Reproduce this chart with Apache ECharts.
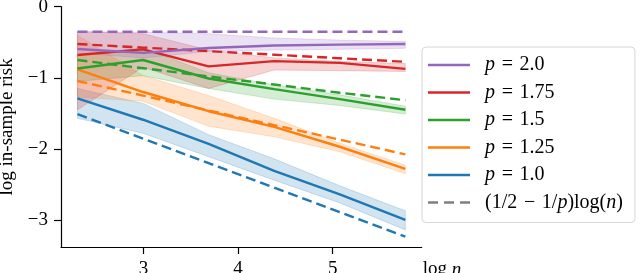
<!DOCTYPE html>
<html><head><meta charset="utf-8">
<script src="https://cdn.jsdelivr.net/npm/echarts@6/dist/echarts.min.js"></script>
<style>html,body{margin:0;padding:0;background:#fff}#c{width:640px;height:273px}</style>
</head><body><div id="c"></div>
<script>
// log n positions
var X = [2.303, 2.996, 3.689, 4.382, 5.075, 5.768];
var xTicks = [3, 4, 5];
var yTicks = [0, -1, -2, -3];
var yTickLabels = ['0', '\u22121', '\u22122', '\u22123'];

// solid lines (mean)
var p10 = [-1.29, -1.59, -1.93, -2.31, -2.64, -3.00];
var p125 = [-0.88, -1.20, -1.47, -1.69, -1.97, -2.28];
var p15 = [-0.87, -0.75, -1.01, -1.16, -1.30, -1.45];
var p175 = [-0.68, -0.60, -0.84, -0.765, -0.79, -0.875];
var p20 = [-0.595, -0.65, -0.58, -0.546, -0.534, -0.525];

// dashed reference lines
var d10 = [-1.51, -1.855, -2.20, -2.545, -2.89, -3.235];
var d125 = [-1.045, -1.25, -1.46, -1.665, -1.87, -2.077];
var d15 = [-0.75, -0.865, -0.98, -1.095, -1.21, -1.315];
var d175 = [-0.525, -0.575, -0.625, -0.675, -0.725, -0.775];
var d20 = [-0.352, -0.352, -0.352, -0.352, -0.352, -0.352];

// shaded bands (lower, upper)
var b10lo = [-1.57, -1.78, -2.11, -2.44, -2.76, -3.14];
var b10hi = [-1.15, -1.36, -1.80, -2.14, -2.52, -2.87];
var b125lo = [-1.27, -1.33, -1.68, -1.83, -2.04, -2.35];
var b125hi = [-0.40, -0.97, -1.25, -1.57, -1.92, -2.23];
var b15lo = [-1.05, -0.97, -1.15, -1.30, -1.39, -1.51];
var b15hi = [-0.68, -0.58, -0.93, -1.10, -1.24, -1.40];
var b175lo = [-1.45, -0.85, -1.15, -0.89, -0.90, -0.91];
var b175hi = [-0.35, -0.38, -0.61, -0.72, -0.77, -0.80];
var b20lo = [-0.65, -0.72, -0.63, -0.61, -0.60, -0.585];
var b20hi = [-0.35, -0.36, -0.38, -0.44, -0.47, -0.49];

var names = ['p = 1.0', 'p = 1.25', 'p = 1.5', 'p = 1.75', 'p = 2.0'];
var refName = '(1/2 \u2212 1/p)log(n)';
var colors = ['#1f77b4', '#ff7f0e', '#2ca02c', '#d62728', '#9467bd'];
var solids = [p10, p125, p15, p175, p20];
var dashes = [d10, d125, d15, d175, d20];
var bandsLo = [b10lo, b125lo, b15lo, b175lo, b20lo];
var bandsHi = [b10hi, b125hi, b15hi, b175hi, b20hi];

var FONT = 'Liberation Serif';

function pairs(v) { return X.map(function (x, i) { return [x, v[i]]; }); }

function band(k) {
  var lo = bandsLo[k], hi = bandsHi[k], col = colors[k];
  return {
    type: 'custom', name: 'band' + k, silent: true, z: 1,
    data: X.map(function (x, i) { return [x, lo[i], hi[i]]; }),
    encode: { x: 0, y: [1, 2] },
    renderItem: function (params, api) {
      if (params.dataIndex !== 0) return null;
      var pts = [];
      for (var i = 0; i < X.length; i++) pts.push(api.coord([X[i], hi[i]]));
      for (var j = X.length - 1; j >= 0; j--) pts.push(api.coord([X[j], lo[j]]));
      return { type: 'polygon', shape: { points: pts },
        style: { fill: col, stroke: col, lineWidth: 1, opacity: 0.2 } };
    }
  };
}

var series = [];
for (var k = 0; k < 5; k++) series.push(band(k));
for (var k2 = 0; k2 < 5; k2++) {
  series.push({ type: 'line', name: names[k2], data: pairs(solids[k2]), symbol: 'none', z: 3,
    lineStyle: { color: colors[k2], width: 2.4 }, itemStyle: { color: colors[k2] } });
  series.push({ type: 'line', name: 'ref' + k2, data: pairs(dashes[k2]), symbol: 'none', z: 3,
    lineStyle: { color: colors[k2], width: 2.4, type: [10, 5] }, itemStyle: { color: colors[k2] } });
}
series.push({ type: 'line', name: refName, data: [], symbol: 'none',
  lineStyle: { color: '#7f7f7f', width: 2.4, type: [10, 5] }, itemStyle: { color: '#7f7f7f' } });

var SP = '\u2004';
var legendText = {
  'p = 2.0': '{i|p}' + SP + '=' + SP + '2.0', 'p = 1.75': '{i|p}' + SP + '=' + SP + '1.75',
  'p = 1.5': '{i|p}' + SP + '=' + SP + '1.5', 'p = 1.25': '{i|p}' + SP + '=' + SP + '1.25',
  'p = 1.0': '{i|p}' + SP + '=' + SP + '1.0'
};
legendText[refName] = '(1/2' + SP + '\u2212' + SP + '1/{i|p})log({i|n})';

var solidIcon = 'path://M0,0h42v2.4h-42z';
var dashIcon = 'path://M0,0h10v2.4h-10z M16,0h10v2.4h-10z M32,0h10v2.4h-10z';
var legendData = ['p = 2.0', 'p = 1.75', 'p = 1.5', 'p = 1.25', 'p = 1.0'].map(function (n) {
  return { name: n, icon: solidIcon };
});
legendData.push({ name: refName, icon: dashIcon });

var chart = echarts.init(document.getElementById('c'), null, { renderer: 'canvas' });
chart.setOption({
  animation: false,
  backgroundColor: '#fff',
  grid: { left: 61, top: 6.7, right: 218.3, bottom: 26, containLabel: false, outerBoundsMode: 'none' },
  xAxis: {
    type: 'value', min: 2.129, max: 5.941,
    name: 'log {i|n}', nameLocation: 'end', nameGap: 1,
    nameTextStyle: { fontFamily: FONT, fontSize: 19, color: '#000', align: 'left', verticalAlign: 'top',
      padding: [13, 0, 0, 0], rich: { i: { fontFamily: FONT, fontSize: 19, fontStyle: 'italic', color: '#000' } } },
    axisLine: { show: true, onZero: false, lineStyle: { color: '#000', width: 1.2 } },
    axisTick: { show: true, length: 7, lineStyle: { color: '#000', width: 1.2 }, customValues: xTicks },
    axisLabel: { customValues: xTicks, margin: 13, fontFamily: FONT, fontSize: 19, color: '#000' },
    splitLine: { show: false }
  },
  yAxis: {
    type: 'value', min: -3.38, max: 0,
    name: 'log in-sample risk', nameLocation: 'middle', nameGap: 39,
    nameTextStyle: { fontFamily: FONT, fontSize: 19, color: '#000' },
    axisLine: { show: true, onZero: false, lineStyle: { color: '#000', width: 1.2 } },
    axisTick: { show: true, length: 7, lineStyle: { color: '#000', width: 1.2 }, customValues: yTicks },
    axisLabel: { customValues: yTicks, margin: 13, fontFamily: FONT, fontSize: 19, color: '#000',
      formatter: function (v) { var i = yTicks.indexOf(Math.round(v)); return i >= 0 ? yTickLabels[i] : ''; } },
    splitLine: { show: false }
  },
  legend: {
    orient: 'vertical', left: 422, top: 47,
    data: legendData,
    itemWidth: 42, itemHeight: 14, itemGap: 7.5,
    padding: [8, 12, 10, 6],
    backgroundColor: '#fff', borderColor: '#d6d6d6', borderWidth: 1, borderRadius: 4,
    selectedMode: false,
    formatter: function (n) { return legendText[n]; },
    textStyle: { fontFamily: FONT, fontSize: 20, color: '#000', lineHeight: 18, padding: [0, 0, 0, 10],
      rich: { i: { fontFamily: FONT, fontSize: 20, fontStyle: 'italic', color: '#000', lineHeight: 18 } } }
  },
  series: series
});
</script></body></html>
